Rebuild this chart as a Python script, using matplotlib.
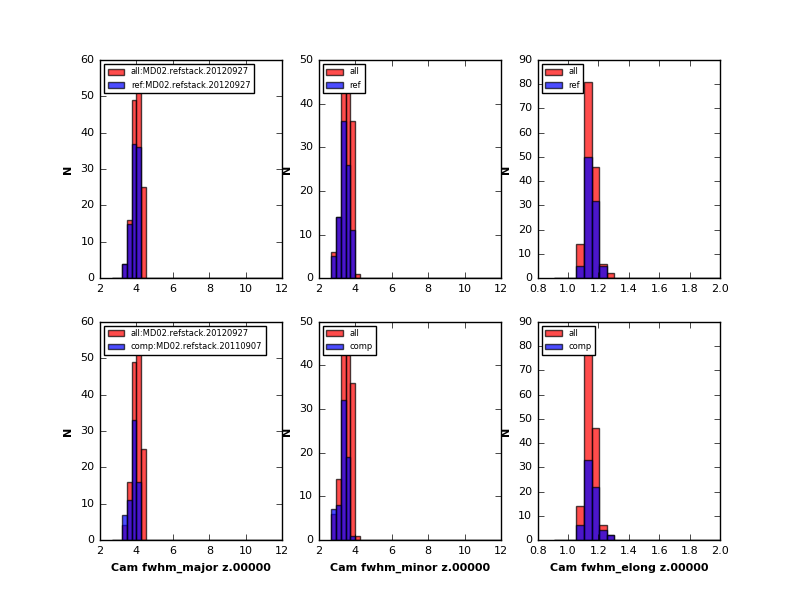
import numpy as np
import matplotlib
matplotlib.use("Agg")
import matplotlib.pyplot as plt

plt.style.use("classic")

# bin edges (fwhm major/minor share the same binning, elong has its own)
fwhm_edges = np.linspace(8.0 / 3.0, 12.0, 36)
elong_edges = np.linspace(0.905, 2.005, 23)

# counts for the occupied bins, starting at the given bin index
major_start = 2
major_all = [4, 16, 49, 55, 25]
major_ref = [4, 15, 37, 36, 0]
major_comp = [7, 11, 33, 16, 0]

minor_start = 0
minor_all = [6, 14, 47, 45, 36, 1]
minor_ref = [5, 14, 36, 26, 11, 0]
minor_comp = [7, 8, 32, 19, 1, 0]

elong_start = 3
elong_all = [14, 81, 46, 6, 2]
elong_ref = [5, 50, 32, 5, 0]
elong_comp = [6, 33, 22, 4, 2]

all_name = "all:MD02.refstack.20120927"
ref_name = "ref:MD02.refstack.20120927"
comp_name = "comp:MD02.refstack.20110907"


def full_counts(edges, start, counts):
    w = np.zeros(len(edges) - 1)
    w[start:start + len(counts)] = counts
    return w


def draw(ax, edges, start, c_all, c_other, lab_all, lab_other, xlim, ylim):
    centers = 0.5 * (edges[:-1] + edges[1:])
    ax.hist(centers, bins=edges, weights=full_counts(edges, start, c_all),
            color="r", alpha=0.7, label=lab_all)
    ax.hist(centers, bins=edges, weights=full_counts(edges, start, c_other),
            color="b", alpha=0.7, label=lab_other)
    ax.set_xlim(xlim)
    ax.set_ylim(ylim)
    ax.set_ylabel("N", fontsize=8, fontweight="bold")
    ax.tick_params(labelsize=8)
    leg = ax.legend(loc="upper left", fontsize=6, fancybox=False)
    leg.get_frame().set_linewidth(1.0)


fig, axes = plt.subplots(2, 3, figsize=(8, 6), dpi=100, facecolor="white")
fig.subplots_adjust(left=0.125, right=0.9, bottom=0.1, top=0.9,
                    wspace=0.2, hspace=0.2)

draw(axes[0, 0], fwhm_edges, major_start, major_all, major_ref,
     all_name, ref_name, (2, 12), (0, 60))
draw(axes[0, 1], fwhm_edges, minor_start, minor_all, minor_ref,
     "all", "ref", (2, 12), (0, 50))
draw(axes[0, 2], elong_edges, elong_start, elong_all, elong_ref,
     "all", "ref", (0.8, 2.0), (0, 90))
draw(axes[1, 0], fwhm_edges, major_start, major_all, major_comp,
     all_name, comp_name, (2, 12), (0, 60))
draw(axes[1, 1], fwhm_edges, minor_start, minor_all, minor_comp,
     "all", "comp", (2, 12), (0, 50))
draw(axes[1, 2], elong_edges, elong_start, elong_all, elong_comp,
     "all", "comp", (0.8, 2.0), (0, 90))

axes[1, 0].set_xlabel("Cam fwhm_major z.00000", fontsize=8, fontweight="bold")
axes[1, 1].set_xlabel("Cam fwhm_minor z.00000", fontsize=8, fontweight="bold")
axes[1, 2].set_xlabel("Cam fwhm_elong z.00000", fontsize=8, fontweight="bold")

fig.savefig("out.png", dpi=100, facecolor="white")
